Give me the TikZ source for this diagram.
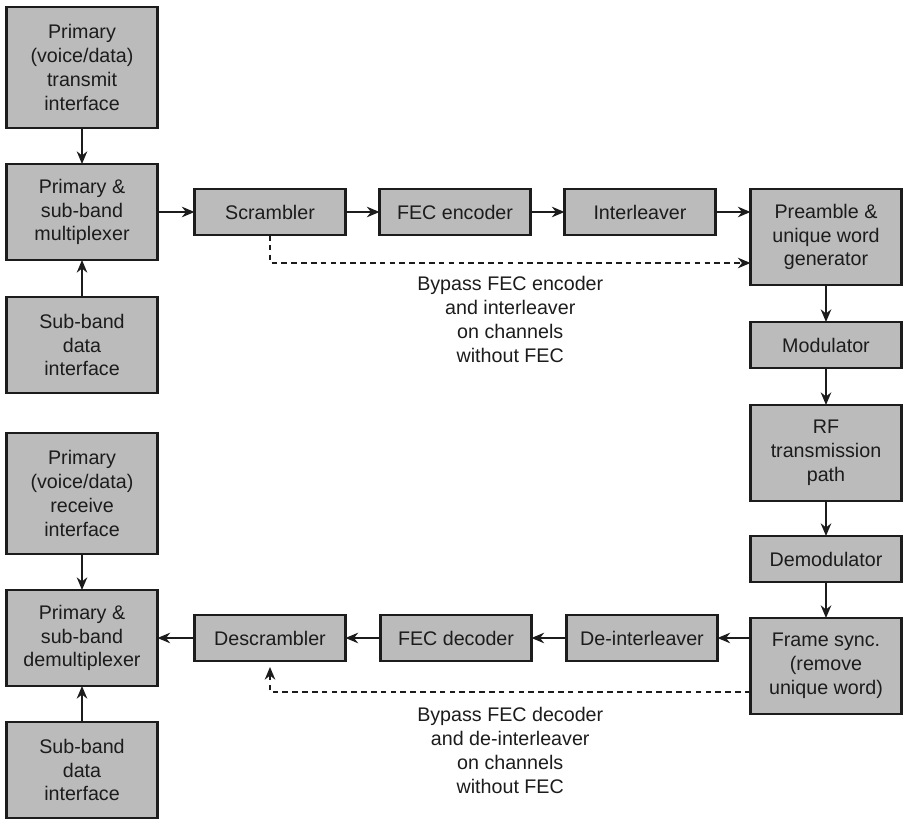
\documentclass[tikz,border=0pt]{standalone}
\usepackage{fontspec}
\setsansfont{Liberation Sans}
\usepackage{xcolor}
\usetikzlibrary{arrows.meta,positioning,calc}
\definecolor{boxGray}{HTML}{BBBBBB}
\definecolor{lineDark}{HTML}{1C1C1C}

\begin{document}
\begin{tikzpicture}[
    node distance=0.9cm,
    font=\fontsize{14}{17}\selectfont\sffamily,
    box/.style={draw=lineDark, fill=boxGray, line width=1.6pt, minimum width=3.775cm, align=center, inner sep=0pt, outer sep=0pt, text=lineDark},
    tallbox/.style={box, minimum height=3.025cm},
    midbox/.style={box, minimum height=2.4cm},
    flatbox/.style={box, minimum height=1.15cm},
    wire/.style={draw=lineDark, line width=1.1pt, -{Stealth[length=9pt,width=7.5pt]}},
    bypass/.style={wire, dash pattern=on 4pt off 3pt},
    note/.style={align=center, inner sep=0pt, text=lineDark}
  ]
    \useasboundingbox (0,0) rectangle (22.65,-20.5);

    % transmit side
    \node[tallbox] (txif) at (2.05,-1.6875) {Primary\\(voice/data)\\transmit\\interface};
    \node[midbox, below=0.9cm of txif] (mux) {Primary \&\\sub-band\\multiplexer};
    \node[midbox, below=0.925cm of mux] (sbtx) {Sub-band\\data\\interface};
    \node[flatbox, right=0.925cm of mux] (scr) {Scrambler};
    \node[flatbox, right=0.85cm of scr] (fecenc) {FEC encoder};
    \node[flatbox, right=0.85cm of fecenc] (intl) {Interleaver};
    \node[midbox, below right=0cm and 0.875cm of intl.north east] (pre) {Preamble \&\\unique word\\generator};
    \node[flatbox, below=0.925cm of pre] (mod) {Modulator};
    \node[midbox, below=0.925cm of mod] (rf) {RF\\transmission\\path};

    % receive side
    \node[flatbox, below=0.875cm of rf] (demod) {Demodulator};
    \node[midbox, below=0.9cm of demod] (fsync) {Frame sync.\\(remove\\unique word)};
    \node[tallbox, below=1.0cm of sbtx] (rxif) {Primary\\(voice/data)\\receive\\interface};
    \node[midbox, below=0.9cm of rxif] (dmx) {Primary \&\\sub-band\\demultiplexer};
    \node[midbox, below=0.9cm of dmx] (sbrx) {Sub-band\\data\\interface};
    \node[flatbox, right=0.925cm of dmx] (descr) {Descrambler};
    \node[flatbox, right=0.875cm of descr] (fecdec) {FEC decoder};
    \node[flatbox, right=0.875cm of fecdec] (dintl) {De-interleaver};

    \draw[wire] (txif) -- (mux);
    \draw[wire] (sbtx) -- (mux);
    \draw[wire] (mux) -- (scr);
    \draw[wire] (scr) -- (fecenc);
    \draw[wire] (fecenc) -- (intl);
    \draw[wire] (intl) -- (intl -| pre.west);
    \draw[wire] (pre) -- (mod);
    \draw[wire] (mod) -- (rf);
    \draw[wire] (rf) -- (demod);
    \draw[wire] (demod) -- (fsync);
    \draw[wire] (dintl -| fsync.west) -- (dintl);
    \draw[wire] (dintl) -- (fecdec);
    \draw[wire] (fecdec) -- (descr);
    \draw[wire] (descr) -- (dmx);
    \draw[wire] (rxif) -- (dmx);
    \draw[wire] (sbrx) -- (dmx);

    % bypass paths
    \coordinate[below=0.7cm of scr.south] (bytx);
    \coordinate[below=0.775cm of descr.south] (byrx);
    \draw[bypass] (scr.south) -- (bytx) -- (bytx -| pre.west);
    \draw[bypass, shorten >=0.15cm] (byrx -| fsync.west) -- (byrx) -- (descr.south);
    \node[note, below=0.33cm of $(bytx)!0.5!(bytx -| pre.west)$] (notetx) {Bypass FEC encoder\\and interleaver\\on channels\\without FEC};
    \node[note, below=0.375cm of $(byrx)!0.5!(byrx -| fsync.west)$] (noterx) {Bypass FEC decoder\\and de-interleaver\\on channels\\without FEC};
  \end{tikzpicture}
\end{document}
